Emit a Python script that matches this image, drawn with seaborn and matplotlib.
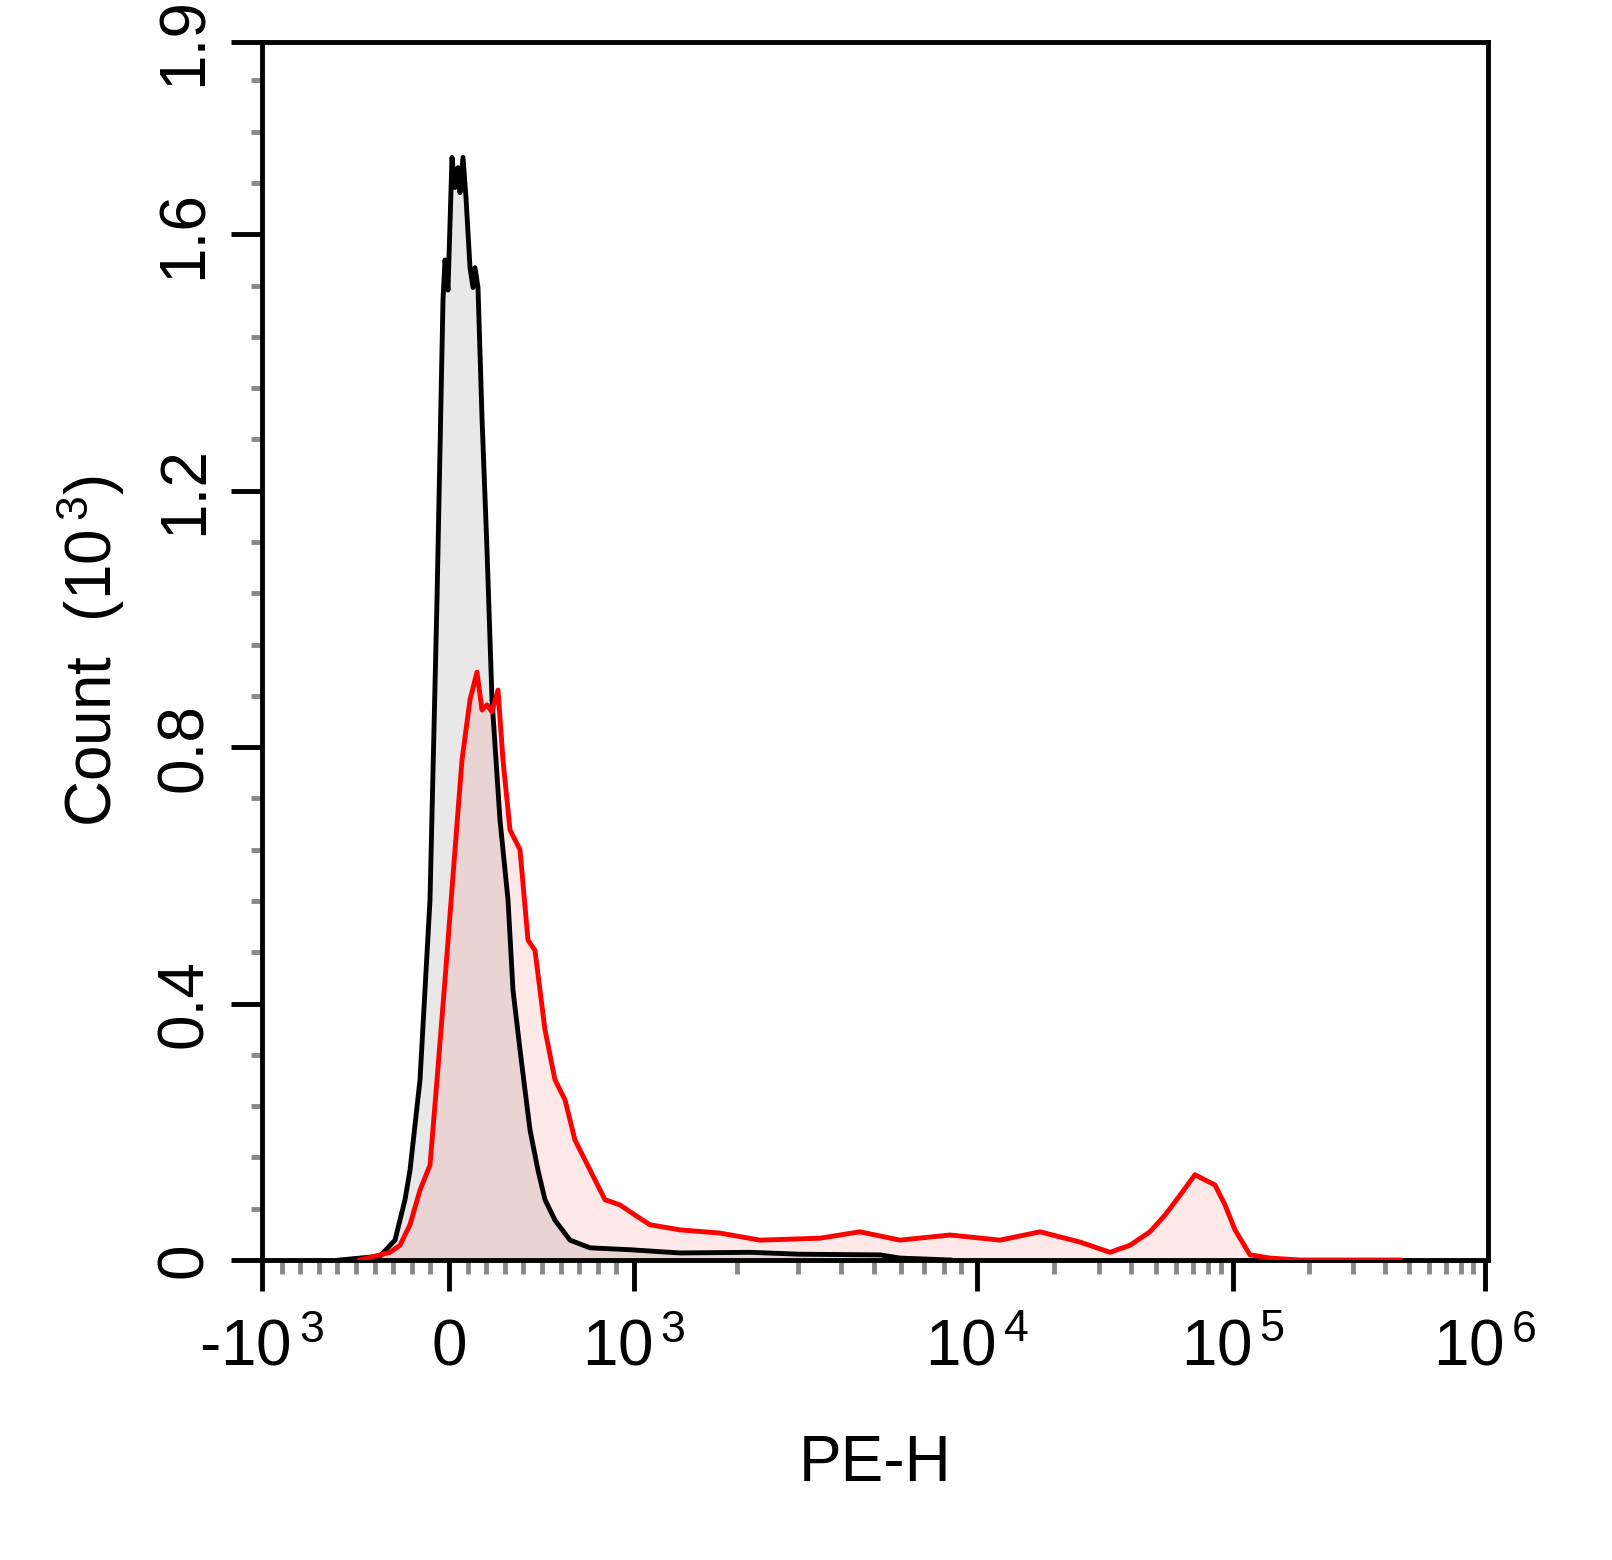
import numpy as np
import pandas as pd
import matplotlib
matplotlib.use("Agg")
import matplotlib.pyplot as plt
import seaborn as sns

# x is in display channel units of the biexponential PE-H axis (0 = -10^3 .. 1226)
tick_channels = [0, 187, 372, 715, 971, 1223]
tick_labels = [r"-10$^{\,3}$", "0", r"10$^{\,3}$", r"10$^{\,4}$", r"10$^{\,5}$", r"10$^{\,6}$"]

ctrl_ch = [78,118,133,143,148,158,168,175,181,183,186,190,193,196,198,201,204,208,211,213,216,220,225,230,238,246,251,258,263,268,276,283,293,308,328,368,418,488,538,618,638,688]
ctrl_cnt = [0.0,0.006,0.031,0.094,0.140,0.281,0.562,1.030,1.498,1.560,1.513,1.720,1.673,1.704,1.665,1.720,1.657,1.548,1.517,1.548,1.517,1.314,1.108,0.874,0.686,0.562,0.421,0.328,0.265,0.203,0.140,0.094,0.062,0.031,0.019,0.016,0.011,0.012,0.009,0.008,0.003,0.0]

stain_ch = [98,128,138,148,158,168,175,183,193,200,208,215,220,225,230,236,241,248,258,266,273,283,293,303,313,323,333,343,358,373,388,418,458,498,558,598,638,688,738,778,818,848,868,888,903,918,933,943,953,963,973,988,1008,1038,1138]
stain_cnt = [0.0,0.012,0.023,0.055,0.109,0.148,0.281,0.437,0.640,0.780,0.874,0.917,0.858,0.866,0.855,0.889,0.780,0.671,0.640,0.499,0.483,0.359,0.281,0.250,0.187,0.156,0.125,0.094,0.086,0.070,0.055,0.047,0.042,0.031,0.034,0.044,0.031,0.039,0.031,0.044,0.028,0.012,0.023,0.044,0.070,0.101,0.133,0.125,0.117,0.086,0.047,0.008,0.003,0.0,0.0]

yticks = [0, 0.4, 0.8, 1.2, 1.6, 1.9]
ytick_labels = ["0", "0.4", "0.8", "1.2", "1.6", "1.9"]

df_c = pd.DataFrame({"ch": ctrl_ch, "cnt": ctrl_cnt})
df_s = pd.DataFrame({"ch": stain_ch, "cnt": stain_cnt})

plt.rcParams["font.family"] = "Liberation Sans"
plt.rcParams["mathtext.fontset"] = "custom"
plt.rcParams["mathtext.rm"] = "Liberation Sans"
plt.rcParams["mathtext.default"] = "regular"
fig = plt.figure(figsize=(16.12, 15.6), dpi=100)
ax = fig.add_axes([262/1612, 300/1560, 1226/1612, 1218/1560])

ax.fill_between(df_c["ch"], df_c["cnt"], color="#e8e8e8", zorder=1)
ax.fill_between(df_s["ch"], df_s["cnt"], color="red", alpha=0.09, linewidth=0, zorder=2)
sns.lineplot(data=df_c, x="ch", y="cnt", color="black", lw=3.5, ax=ax, zorder=3, sort=False)
sns.lineplot(data=df_s, x="ch", y="cnt", color="red", lw=3.5, ax=ax, zorder=4, sort=False)

ax.set_xlim(0, 1226)
ax.set_ylim(0, 1.9)
for s in ax.spines.values():
    s.set_linewidth(3.5)

ax.set_xticks(tick_channels)
ax.set_xticklabels(tick_labels, fontsize=46)
minor = []
lin_w = (tick_channels[2] - tick_channels[0]) / 2
for k in range(1, 10):
    minor += [tick_channels[1] - k * lin_w / 10, tick_channels[1] + k * lin_w / 10]
for d in range(2, 5):
    a, b = tick_channels[d], tick_channels[d + 1]
    for k in range(2, 10):
        minor.append(a + np.log10(k) * (b - a))
ax.set_xticks(minor, minor=True)
ax.tick_params(axis="x", which="major", length=22, width=3.5, pad=20)
ax.tick_params(axis="x", which="minor", length=10, width=3.5, color="#888888")

ax.set_yticks(yticks)
ax.set_yticklabels(ytick_labels, fontsize=46, rotation=90, va="center")
ax.set_yticks(np.arange(0, 1.9, 0.08), minor=True)
ax.tick_params(axis="y", which="major", length=22, width=3.5, pad=12)
ax.tick_params(axis="y", which="minor", length=8, width=3.5, color="#888888")

ax.set_xlabel("PE-H", fontsize=46, labelpad=40)
ax.set_ylabel(r"Count  (10$^{\,3}$)", fontsize=46, labelpad=20)

fig.savefig("out.png", dpi=100)
